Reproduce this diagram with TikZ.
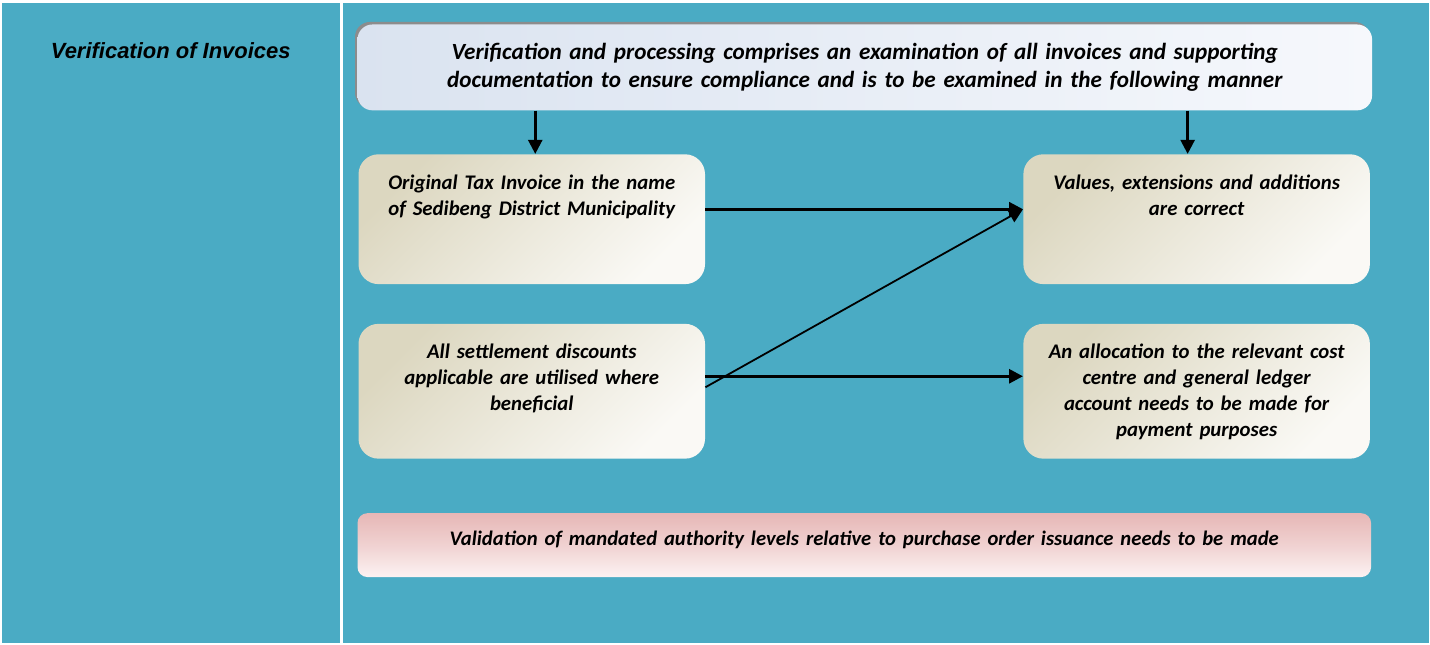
\documentclass[tikz,border=0pt]{standalone}
\usepackage{fontspec}
\setmainfont{Carlito}
\newfontfamily\headfont{Liberation Sans}
\usetikzlibrary{arrows.meta,positioning,shadows}

\begin{document}
\begin{tikzpicture}[x=1pt,y=-1pt,->,>={Triangle[length=14pt,width=14pt]},thick,
  main box/.style={rectangle,rounded corners=20pt,shading=axis,top color=tandark,
    bottom color=tanlight,shading angle=45,text width=321pt,inner xsep=13pt,
    inner ysep=0pt,align=center,text height=35pt,text depth=95pt,
    font=\fontsize{20.8}{26}\selectfont\bfseries\itshape}]
  \definecolor{teal}{HTML}{4AABC4}
  \definecolor{tandark}{HTML}{DCD7C0}
  \definecolor{tanlight}{HTML}{FAF9F5}
  \definecolor{blueleft}{HTML}{DAE3F0}
  \definecolor{blueright}{HTML}{F6F8FC}
  \definecolor{pinktop}{HTML}{E6B7B6}
  \definecolor{pinkbottom}{HTML}{FCF2F2}

  \fill[teal] (0,0) rectangle (1430,642);
  \draw[-,white,line width=3pt] (340.5,0) -- (340.5,642);
  \draw[-,white,line width=2pt] (0,642) -- (0,1) -- (1430,1);

  \node (title) at (170,49) {\headfont\fontsize{22}{26}\selectfont\bfseries\itshape Verification of Invoices};

  \node[rectangle,rounded corners=15pt,shading=axis,left color=blueleft,right color=blueright,
    minimum width=1016pt,minimum height=86pt,text width=1000pt,align=center,
    drop shadow={shadow xshift=-2.5pt,shadow yshift=2.5pt,fill=black!45,opacity=1},
    font=\fontsize{23.2}{28}\selectfont\bfseries\itshape] (top) at (865,66)
    {Verification and processing comprises an examination of all invoices and supporting\\
     documentation to ensure compliance and is to be examined in the following manner};

  \node[main box] (tax) at (531.5,218) {Original Tax Invoice in the name\\ of Sedibeng District Municipality};
  \node[main box] (values) [right=318pt of tax] {Values, extensions and additions\\ are correct};
  \node[main box,text depth=100pt] (disc) [below=39pt of tax] {All settlement discounts\\ applicable are utilised where\\ beneficial};
  \node[main box,text depth=100pt] (alloc) [right=318pt of disc] {An allocation to the relevant cost\\ centre and general ledger\\ account needs to be made for\\ payment purposes};

  \node[rectangle,rounded corners=10pt,shading=axis,top color=pinktop,bottom color=pinkbottom,
    middle color=pinktop!55!pinkbottom,minimum width=1015pt,inner sep=0pt,text width=1015pt,
    align=center,text height=32pt,text depth=32pt,
    font=\fontsize{20.7}{26}\selectfont\bfseries\itshape] (valid) at (864.5,512)
    [anchor=north] {Validation of mandated authority levels relative to purchase order issuance needs to be made};

  \draw[line width=2.5pt] ([xshift=3.5pt]tax.north |- top.south) -- ([xshift=3.5pt]tax.north);
  \draw[line width=2.5pt] ([xshift=-9pt]values.north |- top.south) -- ([xshift=-9pt]values.north);
  \draw[line width=3pt] ([yshift=10pt]tax.east) -- ([yshift=10pt]values.west);
  \draw[line width=3pt] ([yshift=15pt]disc.east) -- ([yshift=15pt]alloc.west);
  \draw[line width=1.8pt] ([yshift=4pt]disc.east) -- ([yshift=10pt]values.west);
\end{tikzpicture}
\end{document}
